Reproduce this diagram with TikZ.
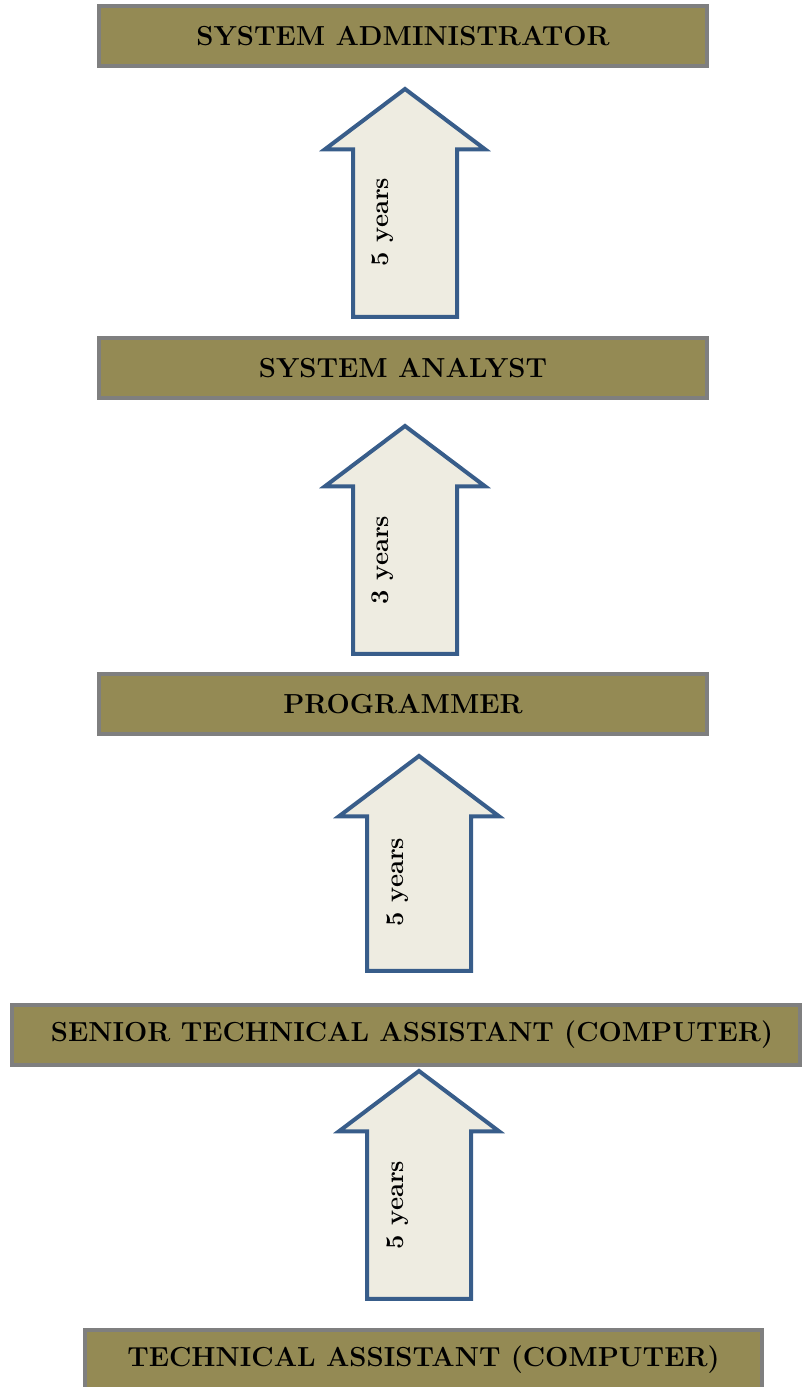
\documentclass[tikz,border=0pt]{standalone}
\usepackage{tikz}
\usetikzlibrary{shapes.arrows}
\usetikzlibrary{positioning}
\definecolor{boxolive}{RGB}{148,138,84}
\definecolor{boxgray}{RGB}{127,127,127}
\definecolor{arrowfill}{RGB}{238,236,225}
\definecolor{arrowblue}{RGB}{56,93,138}

\begin{document}
\begin{tikzpicture}[x=1pt,y=1pt,
  post/.style={draw=boxgray,fill=boxolive,line width=3.5pt,minimum height=60pt,inner sep=0pt,
    font=\fontsize{27.5}{32}\selectfont\bfseries},
  uparrow/.style={single arrow,draw=arrowblue,fill=arrowfill,line width=4pt,rotate=90,
    minimum height=228pt,minimum width=156pt,single arrow head extend=28pt,
    single arrow tip angle=106,single arrow head indent=0pt,inner xsep=0pt,inner ysep=50pt,anchor=tail},
  yrs/.style={rotate=90,inner sep=0pt,font=\fontsize{25.5}{30}\selectfont\bfseries}]
  \useasboundingbox (0,0) rectangle (801,1387);
  \node[post,minimum width=608pt](admin) at (403,1351) {SYSTEM ADMINISTRATOR};
  \node[post,minimum width=608pt](analyst) at (403,1019) {SYSTEM ANALYST};
  \node[post,minimum width=608pt](prog) at (403,683) {PROGRAMMER};
  \node[post,minimum width=788pt](senior) at (406,352) {\hspace*{12pt}SENIOR TECHNICAL ASSISTANT (COMPUTER)};
  \node[post,minimum width=677pt](tech) at (423.5,27) {TECHNICAL ASSISTANT (COMPUTER)};
  % promotion arrows
  \node[uparrow](up4) at (419,86) {};
  \node[uparrow,minimum height=215pt](up3) at (419,414) {};
  \node[uparrow](up2) at (405,731) {};
  \node[uparrow](up1) at (405,1068) {};
  \node[yrs](t4) at ([xshift=-21pt,yshift=96pt]up4.tail) {5 years};
  \node[yrs](t3) at ([xshift=-21pt,yshift=91pt]up3.tail) {5 years};
  \node[yrs](t2) at ([xshift=-22pt,yshift=96pt]up2.tail) {3 years};
  \node[yrs](t1) at ([xshift=-22pt,yshift=97pt]up1.tail) {5 years};
\end{tikzpicture}
\end{document}
